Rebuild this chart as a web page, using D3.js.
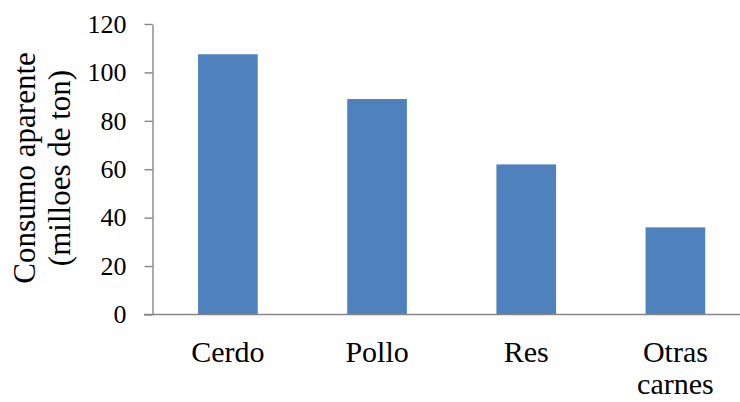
<!DOCTYPE html>
<html>
<head>
<meta charset="utf-8">
<script src="https://cdn.jsdelivr.net/npm/d3@7"></script>
<style>
  html, body { margin: 0; padding: 0; background: #fff; }
  svg { display: block; }
  svg text { font-family: 'Liberation Serif', 'Times New Roman', Times, serif; fill: #000; }
</style>
</head>
<body>
<svg id="chart" width="740" height="402"></svg>
<script>
// Apparent consumption by meat type (millions of tons)
const categories = [["Cerdo"], ["Pollo"], ["Res"], ["Otras", "carnes"]];
const values = [107.5, 89, 62, 36];
const yTicks = [0, 20, 40, 60, 80, 100, 120];
const yTitle = ["Consumo aparente", "(milloes de ton)"];

const svg = d3.select("#chart");
const axisColor = "#868686";
const barColor = "#4f81bd";
const serif = "'Liberation Serif', 'Times New Roman', Times, serif";

const x = d3.scaleBand()
  .domain(categories.map(c => c.join(" ")))
  .range([153.3, 750])
  .paddingInner(0.6)
  .paddingOuter(0.3);

const y = d3.scaleLinear().domain([0, 120]).range([314.5, 24]);

// bars
svg.append("g").selectAll("rect")
  .data(values)
  .join("rect")
  .attr("x", (d, i) => x(categories[i].join(" ")))
  .attr("width", x.bandwidth())
  .attr("y", d => y(d))
  .attr("height", d => y(0) - y(d))
  .attr("fill", barColor);

// y axis
const yAxis = svg.append("g")
  .attr("transform", "translate(152.5,0)")
  .call(d3.axisLeft(y).tickValues(yTicks).tickSize(8).tickSizeOuter(0).tickPadding(18));
yAxis.attr("font-family", null).attr("font-size", null);
yAxis.select(".domain").attr("stroke", axisColor).attr("stroke-width", 1.4);
yAxis.selectAll(".tick line").attr("stroke", axisColor).attr("stroke-width", 1.4);
yAxis.selectAll(".tick text")
  .style("font-family", serif)
  .style("font-size", "26px")
  .attr("fill", "#000");

// x axis baseline
svg.append("line")
  .attr("x1", 144).attr("x2", 740)
  .attr("y1", y(0)).attr("y2", y(0))
  .attr("stroke", axisColor).attr("stroke-width", 1.4);

// category labels (one text per line)
const catG = svg.append("g");
categories.forEach(lines => {
  const cx = x(lines.join(" ")) + x.bandwidth() / 2;
  lines.forEach((ln, j) => {
    catG.append("text")
      .attr("text-anchor", "middle")
      .style("font-family", serif)
      .style("font-size", "30px")
      .attr("x", cx)
      .attr("y", 362 + j * 32)
      .text(ln);
  });
});

// y axis title
const title = svg.append("g").attr("transform", "translate(35,168) rotate(-90)");
yTitle.forEach((ln, j) => {
  title.append("text")
    .attr("text-anchor", "middle")
    .style("font-family", serif)
    .style("font-size", "31px")
    .attr("x", 0)
    .attr("y", j * 35)
    .text(ln);
});
</script>
</body>
</html>
